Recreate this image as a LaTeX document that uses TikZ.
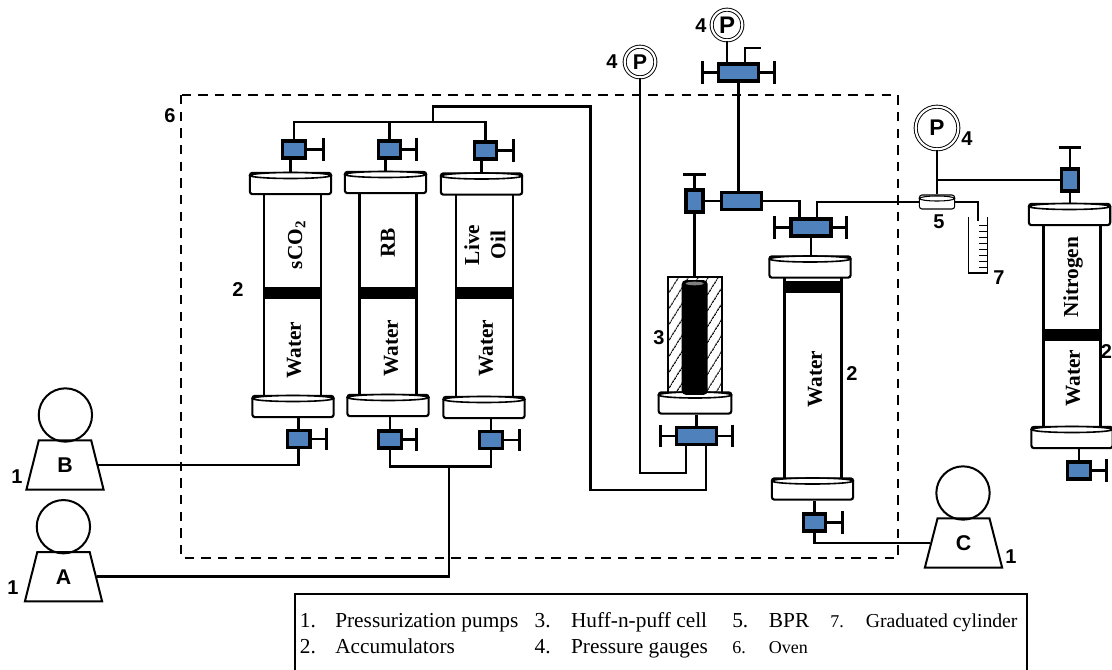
\documentclass[tikz,border=0pt]{standalone}
\usepackage{fontspec}
\setmainfont{Liberation Serif}
\newfontfamily\numfont{Liberation Sans}
\usetikzlibrary{positioning, arrows.meta, shapes.geometric, patterns.meta}
\definecolor{valveblue}{RGB}{79,129,189}
\tikzset{
  pipe/.style={line width=1.9pt},
  handle/.style={line width=2pt,-{Bar[width=17pt,line width=2.2pt]}},
  wall/.style={line width=1.9pt,fill=white},
  valve/.style={draw,fill=valveblue,line width=2.4pt,inner sep=0pt,minimum width=17pt,minimum height=12.75pt},
  longvalve/.style={valve,minimum width=30pt},
  tallvalve/.style={valve,minimum width=12.75pt,minimum height=16.5pt},
  capbox/.style={draw,fill=white,line width=1.6pt,rounded corners=2pt,inner sep=0pt,minimum width=61pt,minimum height=16pt},
  pumpbody/.style={draw,trapezium,trapezium left angle=76,trapezium right angle=76,trapezium stretches=true,
    line width=1.5pt,inner sep=0pt,minimum width=58pt,minimum height=37pt,font=\fontsize{16}{16}\selectfont\numfont\bfseries},
  pumphead/.style={draw,circle,line width=1.5pt,inner sep=0pt,minimum size=40pt},
  gauge/.style={draw,circle,double,double distance=1.6pt,line width=.7pt,inner sep=0pt,minimum size=23pt,font=\fontsize{16}{16}\selectfont\numfont\bfseries},
  numlab/.style={inner sep=0pt,font=\fontsize{15}{15}\selectfont\numfont\bfseries},
  tubelab/.style={inner sep=0pt,rotate=90,font=\fontsize{16}{16}\selectfont\bfseries},
  leg/.style={inner sep=0pt,anchor=base west,font=\fontsize{16}{16}\selectfont},
  legsmall/.style={leg,font=\fontsize{13.5}{14}\selectfont}
}
\begin{document}
\begin{tikzpicture}[x=0.75pt,y=-0.75pt,>=Stealth]
  \useasboundingbox (0,0) rectangle (1112,670);
  % oven
  \draw[line width=1.6pt,dash pattern=on 7pt off 5.5pt] (181,95) rectangle (898,558);
  % accumulators
  \foreach \n/\xt/\xa/\ya/\xb/\yb/\yband in {1/292.7/290.5/183.5/293/406.5/292.5,
      2/388/385.5/182.5/388/405.5/292.7, 3/484.5/481.5/184/484/407.5/292.5,
      4/813/810/267/812.5/489/286.5, 5/1072/1069.5/214.5/1072/437.5/335}{
    \draw[wall] (\xt-28.5,\ya) rectangle (\xt+28.5,\yb);
    \fill[black] (\xt-28.5,\yband-6) rectangle (\xt+28.5,\yband+6);
    \node[capbox] (capT\n) at (\xa,\ya){};
    \node[capbox] (capB\n) at (\xb,\yb){};
    \draw[line width=1.2pt,fill=white] (\xa,\ya-8) ellipse [x radius=40.5,y radius=3];
    \draw[line width=1.2pt,fill=white] (\xb,\yb-8) ellipse [x radius=40.5,y radius=3];
  }
  % huff-n-puff cell
  \node[draw,line width=1.6pt,pattern={Lines[angle=58,distance=6.5pt,line width=.9pt]},inner sep=0pt,
        minimum width=40pt,minimum height=87pt] (cell) at (695,335){};
  \node[capbox,minimum width=54.5pt] (capCell) at (695,403){};
  \draw[line width=1.2pt,fill=white] (695,395) ellipse [x radius=36.5,y radius=3];
  \node[fill=black,rounded corners=3pt,inner sep=0pt,minimum width=19.5pt,minimum height=86pt] (core) at (694.7,337.5){};
  \fill[gray] (694.7,283.5) ellipse [x radius=9,y radius=1.8];
  % pumps
  \node[pumpbody] (pumpA) at (63.5,576.7){A};
  \node[pumpbody] (pumpB) at (65,465){B};
  \node[pumpbody] (pumpC) at (963.5,543){C};
  \node[pumphead] (headA) at (63.4,526.7){};
  \node[pumphead] (headB) at (65.4,415){};
  \node[pumphead] (headC) at (963,493){};
  % gauges
  \node[gauge] (gaugeL) at (640,62){P};
  \node[gauge,font=\fontsize{18}{18}\selectfont\numfont\bfseries] (gaugeT) at (727,25){P};
  \node[gauge,minimum size=32pt,font=\fontsize{17}{17}\selectfont\numfont\bfseries] (gaugeR) at (937,128){P};
  % valves with one handle
  \foreach \n/\x/\y/\hx in {T1/294/149.5/325, T2/389.5/149.5/418, T3/485.5/150.5/515,
      B1/298.7/439/328, B2/390/439.5/417.7, B3/491/440/520.7, B4/814.5/522.5/844, B5/1079/470.5/1108}{
    \node[valve] (v\n) at (\x,\y){};
    \coordinate (h\n) at (\hx,\y);
    \draw[handle] (v\n.east) -- (h\n);
  }
  % valves with two handles
  \foreach \n/\x/\y/\hl/\hr in {Top/738.5/72.5/701/776, Acc/811/227.5/773/848, Cell/696.7/436/659/734}{
    \node[longvalve] (v\n) at (\x,\y){};
    \coordinate (hl\n) at (\hl,\y);
    \coordinate (hr\n) at (\hr,\y);
    \draw[handle] (v\n.west) -- (hl\n);
    \draw[handle] (v\n.east) -- (hr\n);
  }
  \node[longvalve] (vTee) at (741.5,201){};
  % valves with the handle on top
  \foreach \n/\x/\y/\hy in {Left/694.5/201/173, N/1070/180/146}{
    \node[tallvalve] (v\n) at (\x,\y){};
    \coordinate (h\n) at (\x,\hy);
    \draw[handle] (v\n.north) -- (h\n);
  }
  % BPR
  \node[capbox,line width=.8pt,minimum width=26.5pt,minimum height=10.5pt] (bpr) at (937,202){};
  \draw[line width=.8pt,fill=white] (937,198.5) ellipse [x radius=17.5,y radius=2.5];
  % junctions
  \coordinate (jTop) at (433,122);
  \coordinate (jOut) at (433,106.5);
  \coordinate (jDown) at (590.5,490);
  \coordinate (jCellA) at (706,490);
  \coordinate (jCellB) at (686,473);
  \coordinate (jLow) at (449,466.7);
  \coordinate (jAccA) at (799.5,218);
  \coordinate (jAccB) at (817,218);
  \coordinate (jGauge) at (937,180);
  \coordinate (jDrain) at (978,221);
  \coordinate (stubA) at (745,63);
  \coordinate (stubB) at (761,48);
  % stems between vessels and valves
  \foreach \n in {1,2,3}{
    \draw[pipe] (capT\n.north) -- (capT\n.north |- vT\n.south);
    \draw[pipe] (vB\n.north) -- (vB\n.north |- capB\n.south);
  }
  \draw[pipe] (vB4.north) -- (vB4.north |- capB4.south);
  \draw[pipe] (vB5.north) -- (vB5.north |- capB5.south);
  \draw[pipe] (vAcc.south) -- (vAcc.south |- capT4.north);
  \draw[pipe] (vN.south) -- (vN.south |- capT5.north);
  \draw[pipe] (vCell.north) -- (vCell.north |- capCell.south);
  % top manifold to the cell
  \draw[pipe] (vT1.north) |- (jTop) -| (vT3.north);
  \draw[pipe] (vT2.north) -- (vT2.north |- jTop);
  \draw[pipe] (jTop) -- (jOut) -| (jDown) -- (jCellA) -- (jCellA |- vCell.south);
  \draw[pipe] (gaugeL.south) |- (jCellB) -- (jCellB |- vCell.south);
  % bottom manifold
  \draw[pipe] (pumpB.east) -| (vB1.south);
  \draw[pipe] (vB2.south) |- (jLow) -| (vB3.south);
  \draw[pipe] (pumpA.east) -| (jLow);
  \draw[pipe] (vB4.south) |- (pumpC.west);
  % outlet side
  \draw[pipe] (vLeft.south) -- (vLeft.south |- cell.north);
  \draw[pipe] (vLeft.east) -- (vTee.west);
  \draw[pipe] (vTop.south) -- (vTop.south |- vTee.north);
  \draw[pipe] (gaugeT.south) -- (gaugeT.south |- vTop.north);
  \draw[pipe] (stubA) |- (stubB);
  \draw[pipe] (vTee.east) -| (jAccA);
  \draw[pipe] (jAccB) |- (bpr.west);
  \draw[pipe] (gaugeR.south) -- (bpr.north);
  \draw[pipe] (jGauge) -- (vN.west);
  \draw[pipe] (bpr.east) -| (jDrain);
  % graduated cylinder
  \draw[line width=.8pt] (968.3,217) |- (987.5,273) -- (987.5,217);
  \foreach \y in {225,231,237,243,249,255,261,267}
    \draw[line width=.6pt] (979,\y) -- (987.5,\y);
  % vessel labels
  \node[tubelab] (lsco) at (296.7,245){sCO\textsubscript{2}};
  \node[tubelab] (lrb) at (388,243){RB};
  \node[tubelab] (llive) at (471.7,245){Live};
  \node[tubelab] (loil) at (498,245){Oil};
  \node[tubelab] (lw1) at (294,350){Water};
  \node[tubelab] (lw2) at (391,348){Water};
  \node[tubelab] (lw3) at (486,348){Water};
  \node[tubelab] (lw4) at (815,379){Water};
  \node[tubelab] (lw5) at (1073,378){Water};
  \node[tubelab] (lnit) at (1073,277){Nitrogen};
  % numbers
  \node[numlab] (n1a) at (13,588){1};
  \node[numlab] (n1b) at (17,477){1};
  \node[numlab] (n1c) at (1011,557){1};
  \node[numlab] (n2a) at (238,290){2};
  \node[numlab] (n2b) at (852,374){2};
  \node[numlab] (n2c) at (1106.5,352){2};
  \node[numlab] (n3) at (659,338){3};
  \node[numlab] (n4a) at (612,62){4};
  \node[numlab] (n4b) at (701,26){4};
  \node[numlab] (n4c) at (967,139){4};
  \node[numlab] (n5) at (939,222){5};
  \node[numlab] (n6) at (170,116){6};
  \node[numlab] (n7) at (999,278){7};
  % legend
  \draw[line width=1.6pt] (294.7,594) rectangle (1027,690);
  \node[leg] (k1) at (299.6,627.7){1.};
  \node[leg] (k1t) at (335,627.7){Pressurization pumps};
  \node[leg] (k2) at (299.6,653){2.};
  \node[leg] (k2t) at (335,653){Accumulators};
  \node[leg] (k3) at (534.4,627.7){3.};
  \node[leg] (k3t) at (570.8,627.7){Huff-n-puff cell};
  \node[leg] (k4) at (534.4,653){4.};
  \node[leg] (k4t) at (570.8,653){Pressure gauges};
  \node[leg] (k5) at (732,627.7){5.};
  \node[leg] (k5t) at (768.7,627.7){BPR};
  \node[legsmall] (k6) at (732,653){6.};
  \node[legsmall] (k6t) at (768.7,653){Oven};
  \node[legsmall] (k7) at (830,627.7){7.};
  \node[legsmall,font=\fontsize{14.8}{15}\selectfont] (k7t) at (865.5,627.7){Graduated cylinder};
\end{tikzpicture}
\end{document}
